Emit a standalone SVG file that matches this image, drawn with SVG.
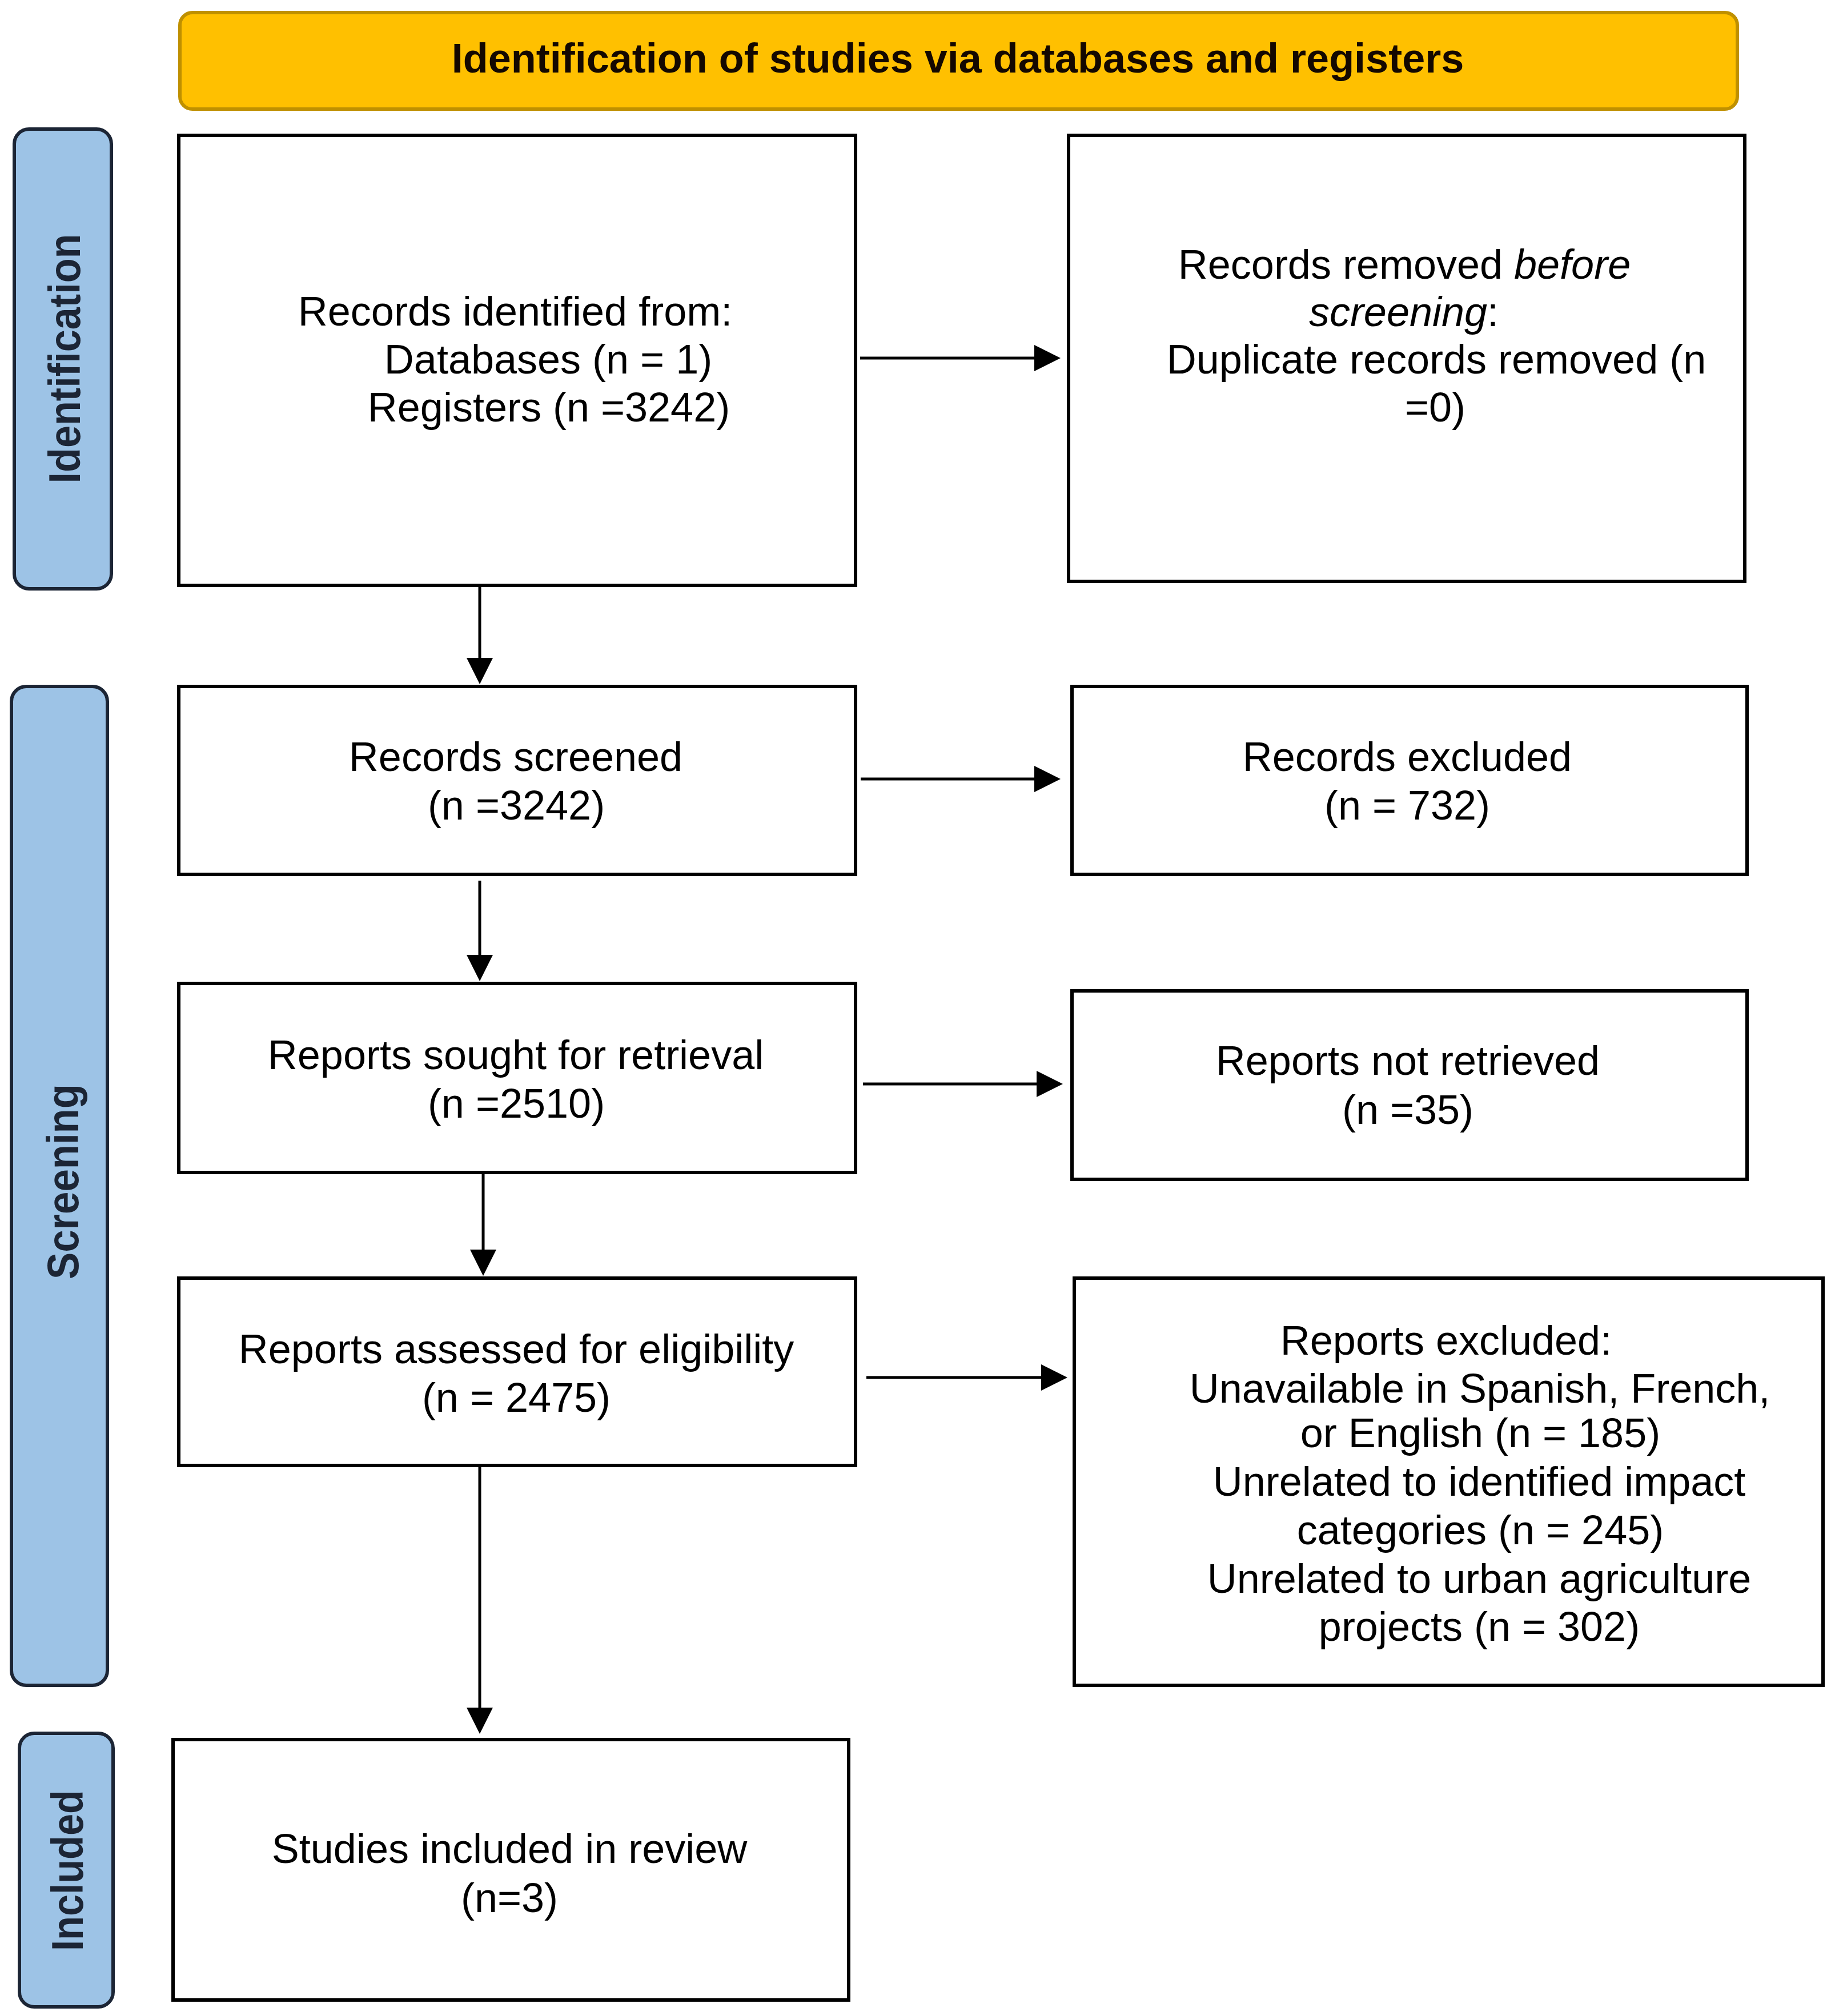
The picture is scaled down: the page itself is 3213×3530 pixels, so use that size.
<svg xmlns="http://www.w3.org/2000/svg" width="3213" height="3530" viewBox="0 0 3213 3530">
<style>
.box{fill:#ffffff;stroke:#000000;stroke-width:6}
.phase{fill:#9DC3E6;stroke:#1c2535;stroke-width:6}
.hdr{fill:#FFC000;stroke:#BF9000;stroke-width:6}
.t{font-family:"Liberation Sans",Arial,sans-serif;font-size:72px;fill:#000000;text-anchor:middle}
.ht{font-family:"Liberation Sans",Arial,sans-serif;font-size:72px;font-weight:bold;fill:#140800;text-anchor:middle}
.pt{font-family:"Liberation Sans",Arial,sans-serif;font-size:78px;font-weight:bold;fill:#1c2535;text-anchor:middle}
.c{stroke:#000000;stroke-width:5;fill:none}
</style>
<defs>
<marker id="arr" markerUnits="userSpaceOnUse" markerWidth="46" markerHeight="46" viewBox="0 0 46 46" refX="0" refY="23" orient="auto">
<path d="M0,0 L46,23 L0,46 Z" fill="#000000"/>
</marker>
</defs>
<rect width="3213" height="3530" fill="#ffffff"/>

<g id="header">
<rect class="hdr" x="315" y="22" width="2727" height="169" rx="22" ry="22"/>
<text class="ht" x="1677" y="127">Identification of studies via databases and registers</text>
</g>

<g id="phase-identification">
<rect class="phase" x="25" y="226" width="170" height="805" rx="26" ry="26"/>
<text class="pt" transform="translate(140,628) rotate(-90)" textLength="437" lengthAdjust="spacingAndGlyphs">Identification</text>
</g>
<g id="phase-screening">
<rect class="phase" x="20" y="1202" width="168" height="1749" rx="26" ry="26"/>
<text class="pt" transform="translate(137,2069) rotate(-90)" textLength="342" lengthAdjust="spacingAndGlyphs">Screening</text>
</g>
<g id="phase-included">
<rect class="phase" x="34" y="3035" width="164" height="479" rx="26" ry="26"/>
<text class="pt" transform="translate(145,3275) rotate(-90)" textLength="282" lengthAdjust="spacingAndGlyphs">Included</text>
</g>

<g id="records-identified">
<rect class="box" x="313" y="237" width="1185" height="788"/>
<text class="t" x="902" y="570">Records identified from:</text>
<text class="t" x="960" y="654">Databases (n = 1)</text>
<text class="t" x="961" y="738">Registers (n =3242)</text>
</g>

<g id="records-removed">
<rect class="box" x="1871" y="237" width="1184" height="781"/>
<text class="t" x="2459" y="488">Records removed <tspan font-style="italic">before</tspan></text>
<text class="t" x="2458" y="571"><tspan font-style="italic">screening</tspan>:</text>
<text class="t" x="2515" y="654">Duplicate records removed (n</text>
<text class="t" x="2513" y="738">=0)</text>
</g>

<g id="records-screened">
<rect class="box" x="313" y="1202" width="1185" height="329"/>
<text class="t" x="903" y="1350">Records screened</text>
<text class="t" x="904" y="1435">(n =3242)</text>
</g>

<g id="records-excluded">
<rect class="box" x="1877" y="1202" width="1182" height="329"/>
<text class="t" x="2464" y="1350">Records excluded</text>
<text class="t" x="2464" y="1435">(n = 732)</text>
</g>

<g id="reports-sought">
<rect class="box" x="313" y="1722" width="1185" height="331"/>
<text class="t" x="903" y="1872">Reports sought for retrieval</text>
<text class="t" x="904" y="1957">(n =2510)</text>
</g>

<g id="reports-not-retrieved">
<rect class="box" x="1877" y="1735" width="1182" height="330"/>
<text class="t" x="2465" y="1882">Reports not retrieved</text>
<text class="t" x="2465" y="1968">(n =35)</text>
</g>

<g id="reports-assessed">
<rect class="box" x="313" y="2238" width="1185" height="328"/>
<text class="t" x="904" y="2387">Reports assessed for eligibility</text>
<text class="t" x="904" y="2472">(n = 2475)</text>
</g>

<g id="reports-excluded">
<rect class="box" x="1881" y="2238" width="1311" height="713"/>
<text class="t" x="2532" y="2372">Reports excluded:</text>
<text class="t" x="2591" y="2456">Unavailable in Spanish, French,</text>
<text class="t" x="2592" y="2534">or English (n = 185)</text>
<text class="t" x="2590" y="2619">Unrelated to identified impact</text>
<text class="t" x="2592" y="2704">categories (n = 245)</text>
<text class="t" x="2590" y="2789">Unrelated to urban agriculture</text>
<text class="t" x="2590" y="2873">projects (n = 302)</text>
</g>

<g id="studies-included">
<rect class="box" x="303" y="3046" width="1183" height="456"/>
<text class="t" x="892" y="3262">Studies included in review</text>
<text class="t" x="892" y="3348">(n=3)</text>
</g>

<g id="connectors">
<line class="c" x1="840" y1="1025" x2="840" y2="1152" marker-end="url(#arr)"/>
<line class="c" x1="840" y1="1542" x2="840" y2="1672" marker-end="url(#arr)"/>
<line class="c" x1="846" y1="2054" x2="846" y2="2188" marker-end="url(#arr)"/>
<line class="c" x1="840" y1="2566" x2="840" y2="2990" marker-end="url(#arr)"/>
<line class="c" x1="1506" y1="627" x2="1811" y2="627" marker-end="url(#arr)"/>
<line class="c" x1="1507" y1="1364" x2="1811" y2="1364" marker-end="url(#arr)"/>
<line class="c" x1="1511" y1="1898" x2="1815" y2="1898" marker-end="url(#arr)"/>
<line class="c" x1="1517" y1="2412" x2="1823" y2="2412" marker-end="url(#arr)"/>
</g>
</svg>
